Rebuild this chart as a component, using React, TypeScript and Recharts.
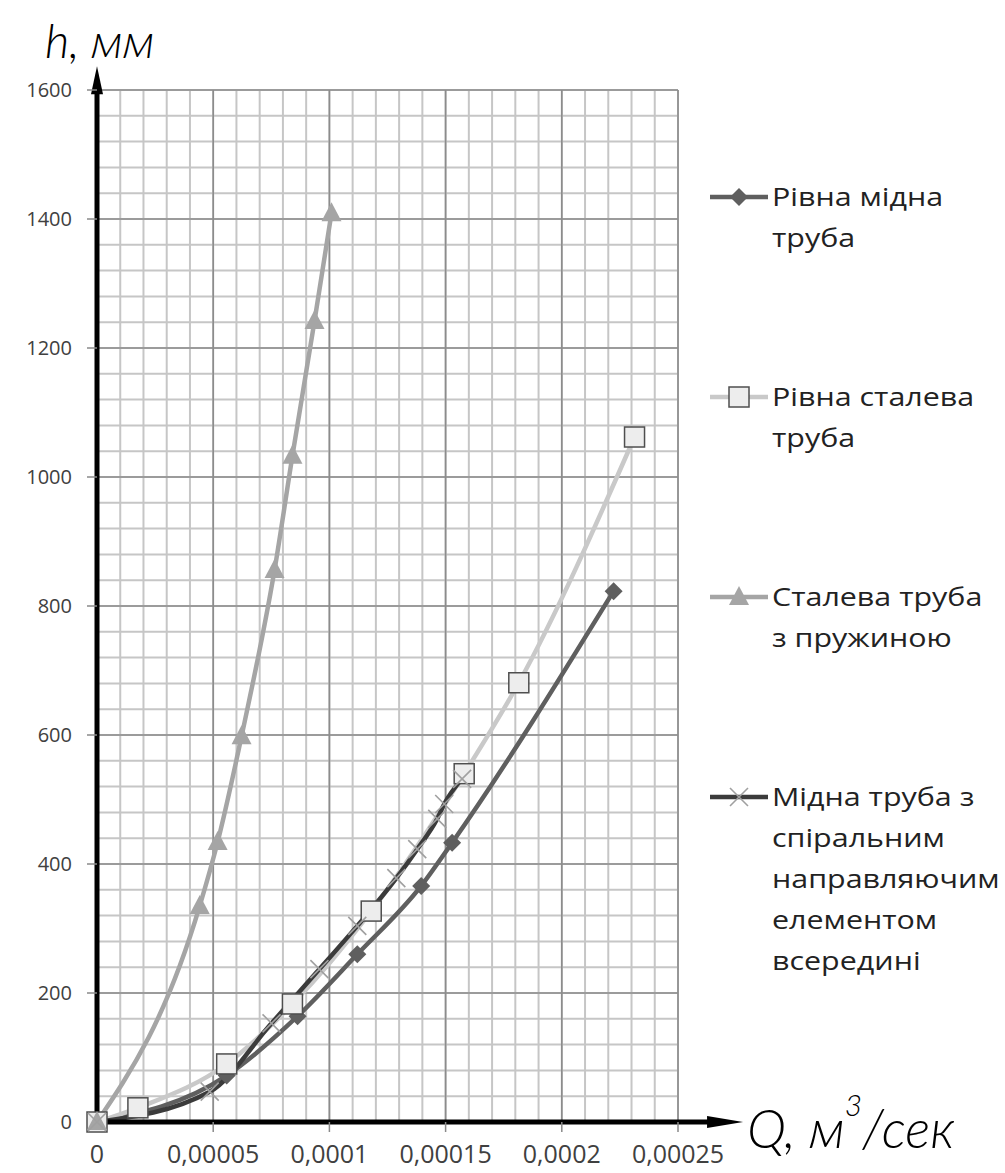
import { LineChart, Line, XAxis, YAxis, CartesianGrid, ReferenceLine } from 'recharts';

// axis ticks
const qTicks = [0, 0.00005, 0.0001, 0.00015, 0.0002, 0.00025];
const hTicks = [0, 200, 400, 600, 800, 1000, 1200, 1400, 1600];
const Q_MAX = 0.00025;
const H_MAX = 1600;
// minor grid steps
const qMinorTicks = Array.from({ length: 26 }, (_, i) => i / 100000);
const hMinorTicks = Array.from({ length: 41 }, (_, i) => i * 40);

// Рівна мідна труба
const copperQ = [0, 0.0000558, 0.0000863, 0.000112, 0.0001395, 0.0001528, 0.0002223];
const copperH = [0, 72, 164, 260, 366, 433, 823];

// Рівна сталева труба
const steelQ = [0, 0.0000176, 0.0000558, 0.0000841, 0.000118, 0.000158, 0.0001815, 0.0002313];
const steelH = [0, 22, 90, 183, 327, 540, 681, 1062];

// Сталева труба з пружиною
const springQ = [0, 0.0000442, 0.0000519, 0.0000622, 0.0000764, 0.0000841, 0.0000936, 0.0001009];
const springH = [0, 335, 434, 598, 856, 1033, 1242, 1409];

// Мідна труба з спіральним направляючим елементом всередині
const spiralQ = [0, 0.0000485, 0.0000751, 0.0000957, 0.000112, 0.0001288, 0.0001378, 0.0001464, 0.0001494, 0.0001571];
const spiralH = [0, 47, 153, 237, 304, 378, 423, 470, 493, 532];

const seriesNames = [
  'Рівна мідна\nтруба',
  'Рівна сталева\nтруба',
  'Сталева труба\nз пружиною',
  'Мідна труба з\nспіральним\nнаправляючим\nелементом\nвсередині',
];

const toRows = (q: number[], h: number[]) => q.map((v, i) => ({ q: v, h: h[i] }));
const copperData = toRows(copperQ, copperH);
const steelData = toRows(steelQ, steelH);
const springData = toRows(springQ, springH);
const spiralData = toRows(spiralQ, spiralH);

const FONT = '"Open Sans", "Noto Sans", sans-serif';
const TITLE_FONT = 'Lato, "DejaVu Sans", sans-serif';

const diamond = (cx: number, cy: number, key?: string) => (
  <path key={key} d={`M${cx},${cy - 9}L${cx + 9},${cy}L${cx},${cy + 9}L${cx - 9},${cy}Z`} fill="#5f5f5f" />
);
const square = (cx: number, cy: number, key?: string) => (
  <rect key={key} x={cx - 10} y={cy - 10} width={20} height={20} fill="#ededed" stroke="#4f4f4f" strokeWidth={1.5} />
);
const triangle = (cx: number, cy: number, key?: string) => (
  <path key={key} d={`M${cx},${cy - 11}L${cx + 10},${cy + 8}L${cx - 10},${cy + 8}Z`} fill="#a5a5a5" />
);
const cross = (cx: number, cy: number, key?: string) => (
  <path key={key} d={`M${cx - 9},${cy - 9}L${cx + 9},${cy + 9}M${cx - 9},${cy + 9}L${cx + 9},${cy - 9}`} stroke="#a0a0a0" strokeWidth={1.6} fill="none" />
);

const series = [
  { data: copperData, color: '#5f5f5f', marker: diamond, name: seriesNames[0] },
  { data: steelData, color: '#c9c9c9', marker: square, name: seriesNames[1] },
  { data: springData, color: '#a5a5a5', marker: triangle, name: seriesNames[2] },
  { data: spiralData, color: '#3b3b3b', marker: cross, name: seriesNames[3] },
];

// minor grid positions through the axis scales
const minorVertical = ({ xAxis, offset }: any) => {
  const s = xAxis && typeof xAxis.scale === 'function' ? xAxis.scale : null;
  return qMinorTicks.map((v) => (s ? s(v) : offset.left + (v / Q_MAX) * offset.width));
};
const minorHorizontal = ({ yAxis, offset }: any) => {
  const s = yAxis && typeof yAxis.scale === 'function' ? yAxis.scale : null;
  return hMinorTicks.map((v) => (s ? s(v) : offset.top + (1 - v / H_MAX) * offset.height));
};

const XArrow = (p: any) => {
  const { x1, y1, x2, y2 } = p;
  return (
    <g>
      <line x1={x1 - 2.5} y1={y1} x2={x2 - 30} y2={y2} stroke="#000" strokeWidth={5} />
      <path d={`M${x2},${y2}L${x2 - 36},${y2 - 6}L${x2 - 36},${y2 + 6}Z`} fill="#000" />
      <text x={x2 + 4} y={y2 + 26} fontFamily={TITLE_FONT} fontStyle="italic" fontWeight={300} fontSize={53} fill="#000">
        <tspan>Q, м</tspan>
        <tspan dy={-32} fontSize={30}>3</tspan>
        <tspan dy={32}>/сек</tspan>
      </text>
    </g>
  );
};

const YArrow = (p: any) => {
  const { x1, y1, x2, y2 } = p;
  return (
    <g>
      <line x1={x1} y1={y1 + 2.5} x2={x2} y2={y2 + 22} stroke="#000" strokeWidth={5} />
      <path d={`M${x2},${y2}L${x2 - 6},${y2 + 28}L${x2 + 6},${y2 + 28}Z`} fill="#000" />
      <text x={x2 - 52} y={y2 - 8} fontFamily={TITLE_FONT} fontStyle="italic" fontWeight={300} fontSize={47} fill="#000">
        h, мм
      </text>
    </g>
  );
};

const legendTops = [176, 376, 576, 776];

export default function App() {
  return (
    <div style={{ position: 'absolute', left: 0, top: 0, width: 1005, height: 1173, background: '#fff' }}>
      <LineChart width={1005} height={1173} margin={{ top: 90, right: 327, bottom: 0, left: 10 }}>
        <XAxis
          dataKey="q"
          type="number"
          domain={[0, Q_MAX]}
          ticks={qTicks}
          height={51}
          axisLine={false}
          tickSize={10}
          tickMargin={13}
          tickLine={{ stroke: '#8a8a8a', strokeWidth: 1.5 }}
          tick={{ fill: '#404040', fontSize: 25, fontFamily: FONT }}
          tickFormatter={(v: number) => String(v).replace('.', ',')}
        />
        <YAxis
          type="number"
          domain={[0, H_MAX]}
          ticks={hTicks}
          width={87}
          axisLine={false}
          tickSize={10}
          tickMargin={15}
          tickLine={{ stroke: '#8a8a8a', strokeWidth: 1.5 }}
          tick={{ fill: '#404040', fontSize: 20, fontFamily: FONT }}
        />
        <CartesianGrid
          stroke="#c6c6c6"
          strokeWidth={2}
          verticalCoordinatesGenerator={minorVertical}
          horizontalCoordinatesGenerator={minorHorizontal}
        />
        <CartesianGrid stroke="#8c8c8c" strokeWidth={1.6} />
        {series.map((s, si) => (
          <Line
            key={si}
            data={s.data}
            dataKey="h"
            type="monotone"
            stroke={s.color}
            strokeWidth={4.5}
            isAnimationActive={false}
            dot={(d: any) => s.marker(d.cx, d.cy, `m${si}-${d.index}`)}
            activeDot={false}
          />
        ))}
        <ReferenceLine
          segment={[{ x: 0, y: 0 }, { x: 0.000278, y: 0 }]}
          ifOverflow="visible"
          shape={XArrow}
        />
        <ReferenceLine
          segment={[{ x: 0, y: 0 }, { x: 0, y: 1637 }]}
          ifOverflow="visible"
          shape={YArrow}
        />
      </LineChart>
      {series.map((s, i) => (
        <div
          key={i}
          style={{ position: 'absolute', left: 708, top: legendTops[i], display: 'flex', alignItems: 'flex-start' }}
        >
          <svg width={62} height={41} style={{ flex: 'none' }}>
            <line x1={2} y1={21} x2={60} y2={21} stroke={s.color} strokeWidth={4.5} />
            {s.marker(31, 21)}
          </svg>
          <div
            style={{
              whiteSpace: 'pre-line',
              fontFamily: FONT,
              fontSize: 26,
              lineHeight: '41px',
              color: '#222',
              marginLeft: 2,
              transform: 'scaleX(1.17)',
              transformOrigin: 'left top',
            }}
          >
            {s.name}
          </div>
        </div>
      ))}
    </div>
  );
}
